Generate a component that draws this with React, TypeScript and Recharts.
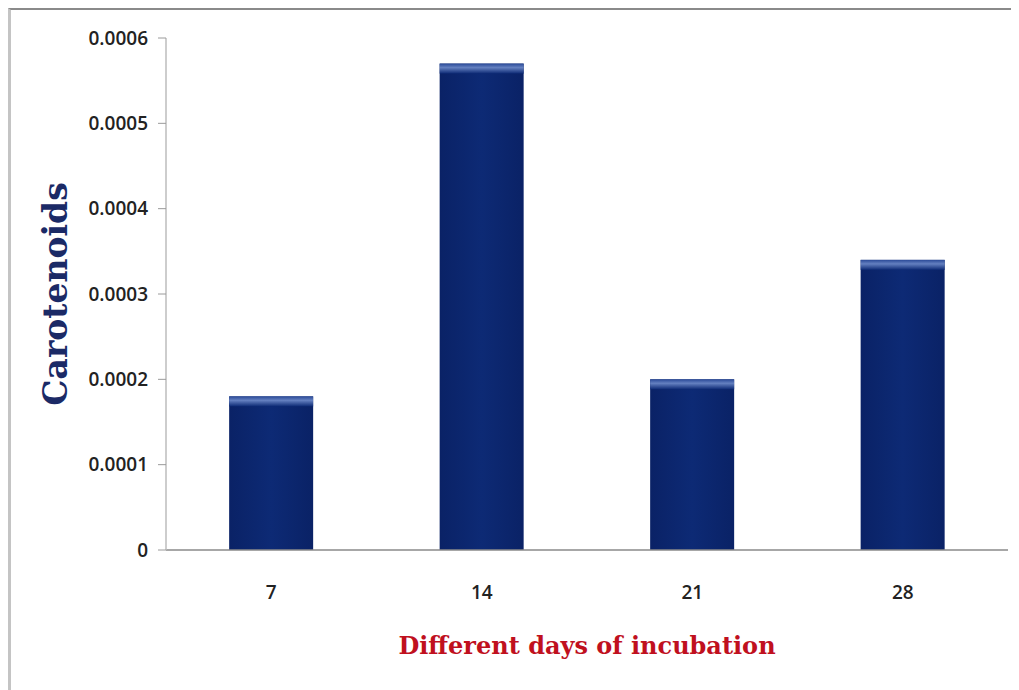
import { BarChart, Bar, XAxis, YAxis, Label } from 'recharts'

const days = ['7', '14', '21', '28']
const carotenoids = [0.00018, 0.00057, 0.0002, 0.00034]
const yTicks = [0, 0.0001, 0.0002, 0.0003, 0.0004, 0.0005, 0.0006]

const data = days.map((d, i) => ({ day: d, value: carotenoids[i] }))

const tickFont = { fontFamily: '"Open Sans", sans-serif', fontSize: 19, fontWeight: 600, fill: '#222' }
const titleFont = '"DejaVu Serif", "Liberation Serif", serif'

// navy bar with a lighter glossy band along the top edge
function GlossyBar(props: any) {
  const { x, y, width, height } = props
  if (!height || height <= 0) return null
  return (
    <g>
      <rect x={x} y={y} width={width} height={height} fill="url(#barBody)" />
      <rect x={x} y={y} width={width} height={Math.min(10, height)} fill="url(#barTop)" />
    </g>
  )
}

export default function App() {
  return (
    <div
      style={{
        width: 1011,
        height: 682,
        borderTop: '2px solid #8a8a8a',
        borderLeft: '3px solid #c4c4c4',
        boxSizing: 'border-box',
        background: '#fff',
      }}
    >
      <style>{'html, body { overflow: hidden; }'}</style>
      <BarChart
        width={997}
        height={680}
        data={data}
        margin={{ top: 28, right: 0, bottom: 0, left: 0 }}
        barCategoryGap="30%"
      >
        <defs>
          <linearGradient id="barBody" x1="0" y1="0" x2="1" y2="0">
            <stop offset="0%" stopColor="#0a2266" />
            <stop offset="50%" stopColor="#0d2a75" />
            <stop offset="100%" stopColor="#0a2266" />
          </linearGradient>
          <linearGradient id="barTop" x1="0" y1="0" x2="0" y2="1">
            <stop offset="0%" stopColor="#2a4a98" />
            <stop offset="40%" stopColor="#6480c0" />
            <stop offset="100%" stopColor="#0d2a75" />
          </linearGradient>
        </defs>
        <XAxis
          dataKey="day"
          height={140}
          tick={tickFont}
          tickLine={false}
          axisLine={{ stroke: '#8a8a8a', strokeWidth: 1.5 }}
          tickMargin={30}
        >
          <Label
            value="Different days of incubation"
            position="insideTop"
            offset={87}
            style={{
              fontFamily: titleFont,
              fontSize: 24,
              fontWeight: 700,
              fill: '#c0101e',
            }}
          />
        </XAxis>
        <YAxis
          width={155}
          domain={[0, 0.0006]}
          ticks={yTicks}
          interval={0}
          tick={tickFont}
          tickSize={8}
          tickMargin={10}
          tickFormatter={(v: number) => (v === 0 ? '0' : v.toFixed(4))}
          tickLine={{ stroke: '#9a9a9a' }}
          axisLine={{ stroke: '#bdbdbd', strokeWidth: 1.5 }}
        >
          <Label
            value="Carotenoids"
            angle={-90}
            position="insideLeft"
            offset={44}
            style={{ fontFamily: titleFont, fontSize: 33, fontWeight: 700, fill: '#1b2a66', textAnchor: 'middle' }}
          />
        </YAxis>
        <Bar dataKey="value" shape={GlossyBar} isAnimationActive={false} />
      </BarChart>
    </div>
  )
}
